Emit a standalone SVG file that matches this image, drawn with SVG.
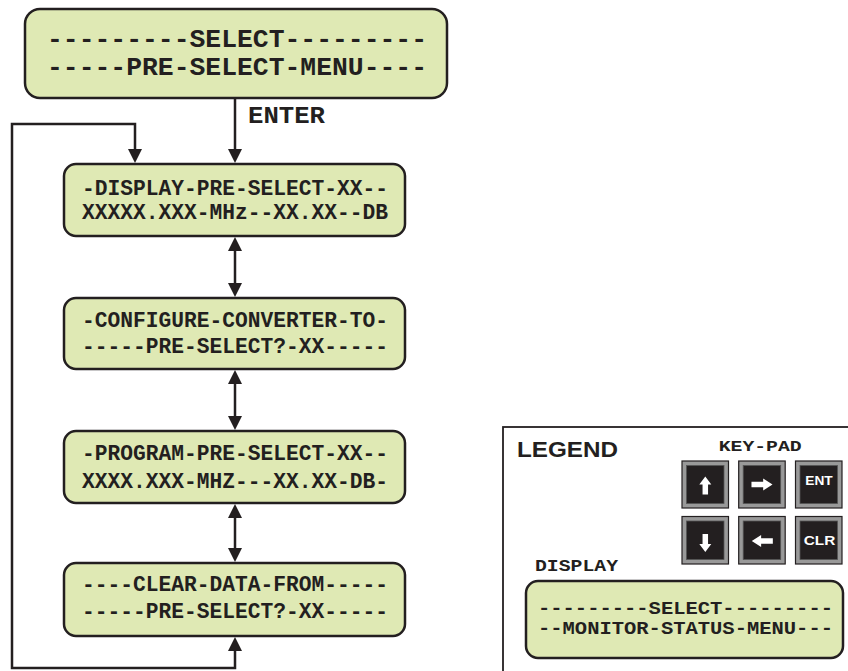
<svg xmlns="http://www.w3.org/2000/svg" width="848" height="671" viewBox="0 0 848 671">
<style>
.box{fill:#dfe9b4;stroke:#231f20;stroke-width:2.5}
.t{font-family:"Liberation Mono","Courier New",monospace;font-weight:bold;fill:#231f20;text-anchor:middle}
.lbl{font-family:"Liberation Mono","Courier New",monospace;font-weight:bold;fill:#231f20}
.conn{fill:none;stroke:#231f20;stroke-width:2.5}
.kout{fill:#999999;stroke:#231f20;stroke-width:1.2}
.kin{fill:#231f20;stroke:#555;stroke-width:0.8}
.kt{font-family:"Liberation Sans",Arial,sans-serif;font-weight:bold;fill:#ffffff;text-anchor:middle;font-size:12.5px}
</style>
<defs>
<marker id="ah" markerUnits="userSpaceOnUse" markerWidth="15" markerHeight="15" refX="10" refY="7" orient="auto-start-reverse">
<path d="M0,0 L14,7 L0,14 Z" fill="#231f20"/>
</marker>
<path id="karr" d="M0,-9 L6,-1 L2.75,-1 L2.75,9 L-2.75,9 L-2.75,-1 L-6,-1 Z" fill="#ffffff"/>
</defs>

<g id="connectors">
<line class="conn" x1="235" y1="99" x2="235" y2="159" marker-end="url(#ah)"/>
<line class="conn" x1="235" y1="241" x2="235" y2="293" marker-start="url(#ah)" marker-end="url(#ah)"/>
<line class="conn" x1="235" y1="374" x2="235" y2="426" marker-start="url(#ah)" marker-end="url(#ah)"/>
<line class="conn" x1="235" y1="508" x2="235" y2="558" marker-start="url(#ah)" marker-end="url(#ah)"/>
<path class="conn" d="M235,641 V668 H12 V124 H135 V159" marker-start="url(#ah)" marker-end="url(#ah)"/>
<text class="lbl" x="248" y="122.5" font-size="23" textLength="77" lengthAdjust="spacingAndGlyphs">ENTER</text>
</g>

<g id="node-select">
<rect class="box" x="25" y="9" width="422" height="89" rx="15"/>
<text class="t" x="237" y="47" font-size="26" textLength="380" lengthAdjust="spacingAndGlyphs">---------SELECT---------</text>
<text class="t" x="237" y="75" font-size="26" textLength="380" lengthAdjust="spacingAndGlyphs">-----PRE-SELECT-MENU----</text>
</g>

<g id="node-display">
<rect class="box" x="64" y="164" width="341" height="72" rx="12"/>
<text class="t" x="235" y="195" font-size="21.5" textLength="306" lengthAdjust="spacingAndGlyphs">-DISPLAY-PRE-SELECT-XX--</text>
<text class="t" x="235" y="218.5" font-size="21.5" textLength="306" lengthAdjust="spacingAndGlyphs">XXXXX.XXX-MHz--XX.XX--DB</text>
</g>

<g id="node-configure">
<rect class="box" x="64" y="298" width="341" height="71" rx="12"/>
<text class="t" x="235" y="327" font-size="21.5" textLength="306" lengthAdjust="spacingAndGlyphs">-CONFIGURE-CONVERTER-TO-</text>
<text class="t" x="235" y="353" font-size="21.5" textLength="306" lengthAdjust="spacingAndGlyphs">-----PRE-SELECT?-XX-----</text>
</g>

<g id="node-program">
<rect class="box" x="64" y="431" width="341" height="72" rx="12"/>
<text class="t" x="235" y="460" font-size="21.5" textLength="306" lengthAdjust="spacingAndGlyphs">-PROGRAM-PRE-SELECT-XX--</text>
<text class="t" x="235" y="488" font-size="21.5" textLength="306" lengthAdjust="spacingAndGlyphs">XXXX.XXX-MHZ---XX.XX-DB-</text>
</g>

<g id="node-clear">
<rect class="box" x="64" y="563" width="341" height="73" rx="12"/>
<text class="t" x="235" y="591" font-size="21.5" textLength="306" lengthAdjust="spacingAndGlyphs">----CLEAR-DATA-FROM-----</text>
<text class="t" x="235" y="618" font-size="21.5" textLength="306" lengthAdjust="spacingAndGlyphs">-----PRE-SELECT?-XX-----</text>
</g>

<g id="legend">
<rect x="503" y="427" width="360" height="260" fill="#ffffff" stroke="#231f20" stroke-width="1.8"/>
<text x="517" y="456.7" font-family="'Liberation Sans',Arial,sans-serif" font-weight="bold" font-size="22.5" fill="#231f20" textLength="101" lengthAdjust="spacingAndGlyphs">LEGEND</text>
<text class="lbl" x="718.7" y="450.7" font-size="15" textLength="83" lengthAdjust="spacingAndGlyphs">KEY-PAD</text>
<text class="lbl" x="535" y="570.7" font-size="17" textLength="83" lengthAdjust="spacingAndGlyphs">DISPLAY</text>

<g id="key-up">
<rect class="kout" x="682" y="461" width="46.5" height="47"/>
<rect class="kin" x="686.5" y="465.5" width="37.5" height="38"/>
<use href="#karr" transform="translate(705.3,485.5)"/>
</g>
<g id="key-right">
<rect class="kout" x="738.7" y="461" width="46.5" height="47"/>
<rect class="kin" x="743.2" y="465.5" width="37.5" height="38"/>
<use href="#karr" transform="translate(762,484.5) rotate(90) scale(1,1.17)"/>
</g>
<g id="key-ent">
<rect class="kout" x="795.5" y="461" width="46.5" height="47"/>
<rect class="kin" x="800" y="465.5" width="37.5" height="38"/>
<text class="kt" x="819" y="485" textLength="27.4" lengthAdjust="spacingAndGlyphs">ENT</text>
</g>
<g id="key-down">
<rect class="kout" x="682" y="516.5" width="46.5" height="47.5"/>
<rect class="kin" x="686.5" y="521" width="37.5" height="38.5"/>
<use href="#karr" transform="translate(705.3,543) rotate(180)"/>
</g>
<g id="key-left">
<rect class="kout" x="738.7" y="516.5" width="46.5" height="47.5"/>
<rect class="kin" x="743.2" y="521" width="37.5" height="38.5"/>
<use href="#karr" transform="translate(762.3,541) rotate(-90) scale(1,1.17)"/>
</g>
<g id="key-clr">
<rect class="kout" x="795.5" y="516.5" width="46.5" height="47.5"/>
<rect class="kin" x="800" y="521" width="37.5" height="38.5"/>
<text class="kt" x="819.5" y="545" textLength="31.6" lengthAdjust="spacingAndGlyphs">CLR</text>
</g>

<g id="legend-display">
<rect class="box" x="526" y="581" width="317" height="77" rx="12"/>
<text class="t" x="685.5" y="614" font-size="19" textLength="295" lengthAdjust="spacingAndGlyphs">---------SELECT---------</text>
<text class="t" x="685.5" y="634" font-size="19" textLength="295" lengthAdjust="spacingAndGlyphs">--MONITOR-STATUS-MENU---</text>
</g>
</g>
</svg>
